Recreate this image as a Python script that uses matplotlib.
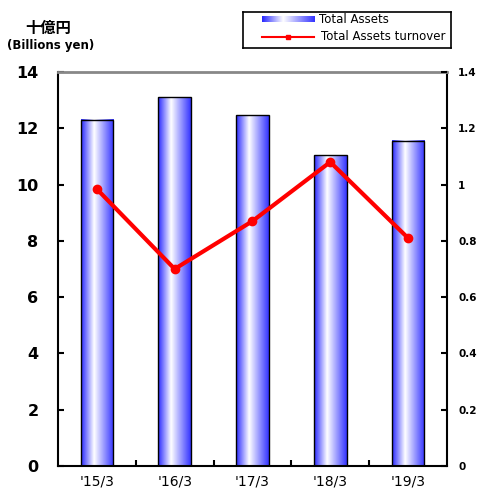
import matplotlib
matplotlib.use("Agg")
import matplotlib.pyplot as plt
import numpy as np
from matplotlib.colors import LinearSegmentedColormap
from matplotlib.lines import Line2D

plt.rcParams['font.family'] = ['DejaVu Sans', 'Noto Sans CJK JP']

categories = ["'15/3", "'16/3", "'17/3", "'18/3", "'19/3"]
total_assets = [12.3, 13.1, 12.47, 11.05, 11.55]
turnover = [0.984, 0.70, 0.87, 1.08, 0.81]
left_ticks = [0, 2, 4, 6, 8, 10, 12, 14]
right_ticks = [0, 0.2, 0.4, 0.6, 0.8, 1, 1.2, 1.4]
right_labels = ["0", "0.2", "0.4", "0.6", "0.8", "1", "1.2", "1.4"]

cmap = LinearSegmentedColormap.from_list(
    "barg", [(0.0, (0.15, 0.15, 1.0)), (0.4, (1, 1, 1)), (1.0, (0.2, 0.2, 1.0))])
grad = np.linspace(0, 1, 256).reshape(1, -1)

fig = plt.figure(figsize=(4.79, 4.93), dpi=100)
ax = fig.add_axes([0.121, 0.0548, 0.812, 0.7992])
x = np.arange(len(categories))
width = 0.42
bars = ax.bar(x, total_assets, width, facecolor='none', edgecolor='black', linewidth=1, zorder=3)
for b in bars:
    x0 = b.get_x(); w = b.get_width(); h = b.get_height()
    ax.imshow(grad, cmap=cmap, extent=(x0, x0 + w, 0, h), aspect='auto', zorder=2)
ax.set_xlim(-0.5, len(categories) - 0.5)
ax.set_ylim(0, 14)
ax.set_yticks(left_ticks)
ax.set_yticklabels([str(t) for t in left_ticks], fontsize=11.5, fontweight='bold')
ax.tick_params(axis='y', direction='in', length=4, width=1.5, pad=14)
ax.set_xticks(x)
ax.set_xticklabels(categories, fontsize=10)
ax.tick_params(axis='x', length=0, pad=6)
ax.set_xticks(np.arange(0.5, len(categories) - 1, 1), minor=True)
ax.tick_params(axis='x', which='minor', direction='in', length=4, width=1.5)
for s in ['left', 'right', 'bottom']:
    ax.spines[s].set_linewidth(1.5)
ax.spines['top'].set_color('#888888')
ax.spines['top'].set_linewidth(2)

ax2 = ax.twinx()
ax2.set_ylim(0, 1.4)
ax2.plot(x, turnover, color='red', linewidth=3, marker='o', markersize=6, zorder=5)
ax2.set_yticks(right_ticks)
ax2.set_yticklabels(right_labels, fontsize=7.5, fontweight='bold')
ax2.tick_params(axis='y', direction='in', length=4, width=1.5, pad=8)
for s in ax2.spines.values():
    s.set_visible(False)

fig.text(0.101, 0.943, "十億円", fontsize=11, fontweight='bold', ha='center', va='center',
         family=['Noto Sans CJK JP'])
fig.text(0.105, 0.908, "(Billions yen)", fontsize=8.5, fontweight='bold', ha='center', va='center')

# legend
lax = fig.add_axes([0.507, 0.903, 0.435, 0.073])
lax.set_xlim(0, 208); lax.set_ylim(36, 0)
lax.set_xticks([]); lax.set_yticks([])
for s in lax.spines.values():
    s.set_linewidth(1.2)
lax.imshow(grad, cmap=cmap, extent=(19, 71, 10, 4), aspect='auto')
lax.text(76, 7.5, "Total Assets", fontsize=8.5, va='center')
lax.add_line(Line2D([19, 71], [25, 25], color='red', linewidth=1.5))
lax.plot([45], [25], 's', color='red', markersize=3)
lax.text(78, 25, "Total Assets turnover", fontsize=8.5, va='center')

fig.savefig("out.png", dpi=100)
